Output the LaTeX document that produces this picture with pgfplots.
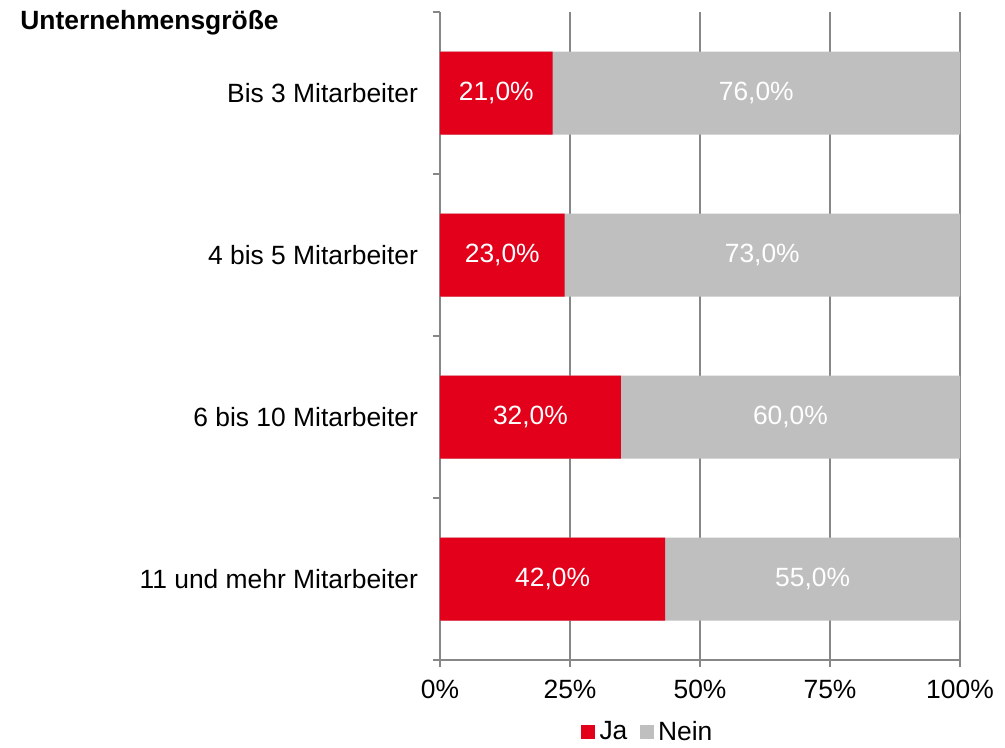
\documentclass[border=0pt]{standalone}
\usepackage{pgfplots}
\pgfplotsset{compat=1.18}
\usepackage{pgfplotstable}
\usepackage{fontspec}
\setmainfont{Liberation Sans}
\usetikzlibrary{calc}
\definecolor{jared}{HTML}{E2001A}
\definecolor{neingray}{HTML}{BFBFBF}
\definecolor{axgray}{HTML}{878787}
\newcommand{\fs}{\fontsize{13.2}{15}\selectfont}
\pgfplotstableread{
idx ja nein
0 21 76
1 23 73
2 32 60
3 42 55
}\datatable
\begin{document}
\begin{tikzpicture}
\begin{axis}[
  scale only axis,
  width=260pt, height=324pt,
  xmin=0, xmax=100,
  ymin=-0.5, ymax=3.5,
  y dir=reverse,
  axis x line*=bottom,
  axis y line*=left,
  axis line style={axgray, line width=0.8pt},
  xtick={0,25,50,75,100},
  xticklabel={\pgfmathprintnumber{\tick}\%},
  ytick={-0.5,0.5,1.5,2.5,3.5},
  yticklabels={Bis 3 Mitarbeiter,4 bis 5 Mitarbeiter,6 bis 10 Mitarbeiter,11 und mehr Mitarbeiter,{}},
  major tick length=3.5pt,
  tick align=outside,
  tick style={axgray, line width=0.8pt},
  yticklabel style={xshift=-4pt, yshift=-40.5pt},
  xticklabel style={yshift=-3pt},
  xmajorgrids,
  major grid style={axgray, line width=0.8pt},
  tick label style={font=\fs, text=black},
  /pgf/number format/assume math mode=true,
  legend style={draw=none, font=\fs, at={(0.402,-0.111)}, anchor=center,
    legend columns=2, inner sep=0pt, nodes={inner sep=2.2pt},
    /tikz/every even column/.append style={column sep=4pt}},
  legend cell align=left,
]
\addlegendimage{area legend, legend image code/.code={\fill[jared] (0pt,-3.4pt) rectangle (6.5pt,3.1pt);}}
\addlegendentry{Ja}
\addlegendimage{area legend, legend image code/.code={\fill[neingray] (0pt,-3.4pt) rectangle (6.5pt,3.1pt);}}
\addlegendentry{Nein}
\addplot[xbar, bar width=41.5pt, bar shift=0pt, fill=neingray, draw=none, forget plot]
  table[y=idx, x expr={(\thisrow{ja}+\thisrow{nein})/(\thisrow{ja}+\thisrow{nein})*100}] {\datatable};
\addplot[xbar, bar width=41.5pt, bar shift=0pt, fill=jared, draw=none, forget plot]
  table[y=idx, x expr={\thisrow{ja}/(\thisrow{ja}+\thisrow{nein})*100}] {\datatable};
\addplot[only marks, mark=none, forget plot, point meta=\thisrow{ja},
  nodes near coords={\pgfmathprintnumber[fixed,fixed zerofill,precision=1,use comma]{\pgfplotspointmeta}\%},
  every node near coord/.append style={anchor=center, text=white, font=\fs}]
  table[y=idx, x expr={\thisrow{ja}/(\thisrow{ja}+\thisrow{nein})*50}] {\datatable};
\addplot[only marks, mark=none, forget plot, point meta=\thisrow{nein},
  nodes near coords={\pgfmathprintnumber[fixed,fixed zerofill,precision=1,use comma]{\pgfplotspointmeta}\%},
  every node near coord/.append style={anchor=center, text=white, font=\fs}]
  table[y=idx, x expr={50+\thisrow{ja}/(\thisrow{ja}+\thisrow{nein})*50}] {\datatable};
\coordinate (sw) at (rel axis cs:0,0);
\coordinate (ne) at (rel axis cs:1,1);
\end{axis}
\node[anchor=west, font=\fs\bfseries, inner sep=0pt] at ($(sw|-ne)+(-210pt,-5.5pt)$) {Unternehmensgröße};
\useasboundingbox ($(sw)+(-220pt,-42.5pt)$) rectangle ($(ne)+(22.5pt,6pt)$);
\end{tikzpicture}
\end{document}
